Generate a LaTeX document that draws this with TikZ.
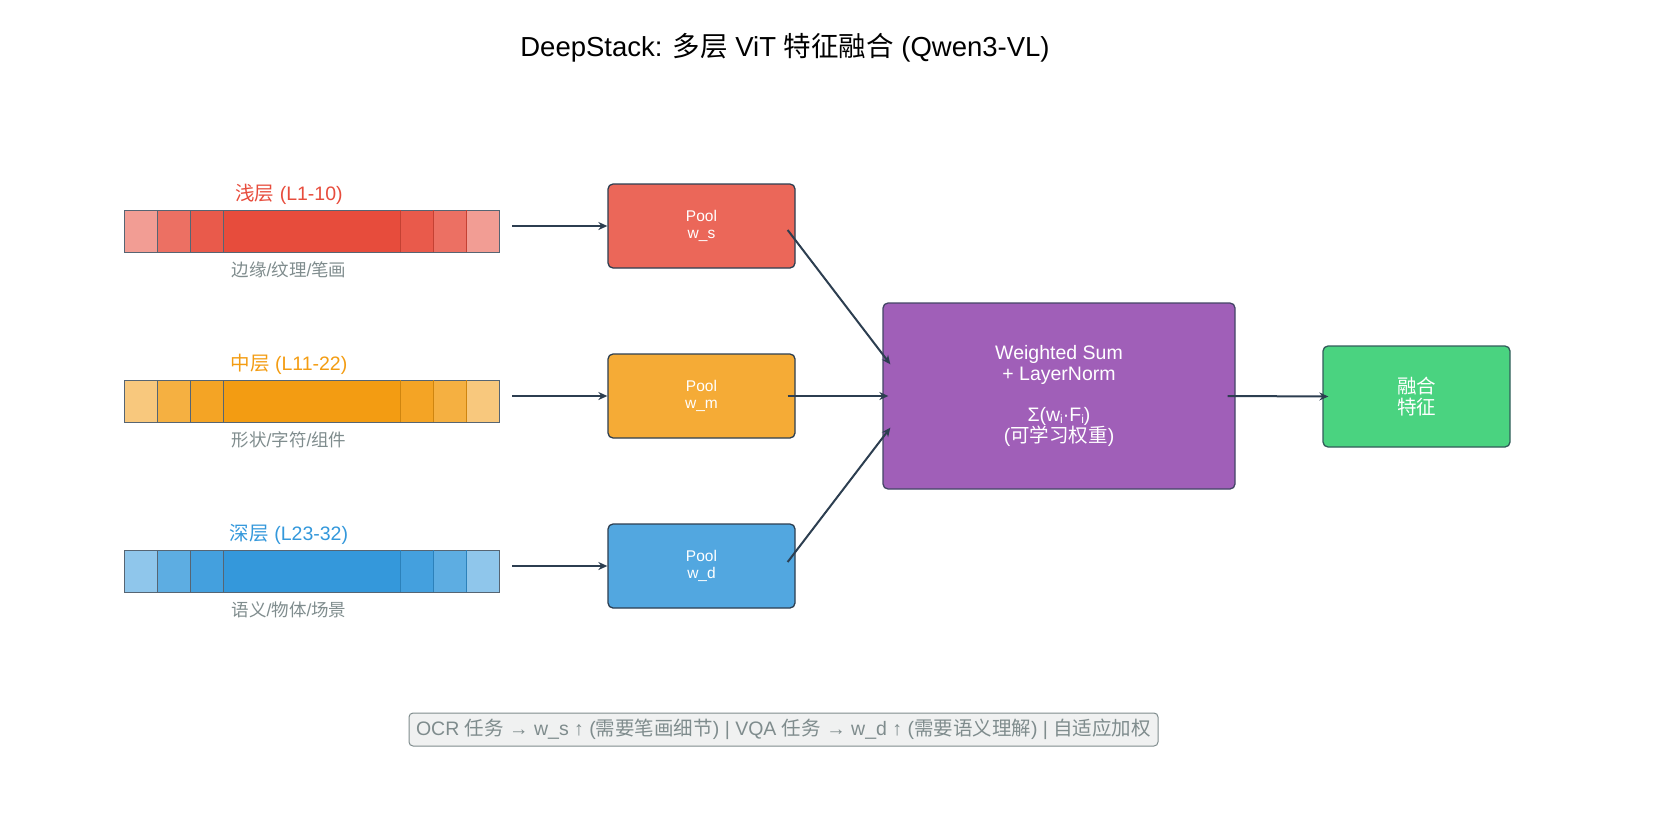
\documentclass[tikz,border=0pt]{standalone}
\usepackage{fontspec}
\setmainfont{Liberation Sans}
\newfontfamily\cjk{Noto Sans CJK SC}
\usetikzlibrary{arrows.meta}
\definecolor{cr}{HTML}{E74C3C}\definecolor{co}{HTML}{F39C12}\definecolor{cb}{HTML}{3498DB}
\definecolor{dk}{HTML}{2C3E50}\definecolor{gr}{HTML}{7F8C8D}
\definecolor{pu}{HTML}{A05FB8}\definecolor{gn}{HTML}{4AD380}
\tikzset{
 pool/.style={draw=dk,line width=1.3pt,rounded corners=5pt,text=white,font=\fontsize{15.5}{17}\selectfont,align=center,inner sep=0pt},
 arr/.style={draw=dk,line width=2pt,-{Stealth[length=9pt,width=8pt]}},
 sq/.style={draw=dk!80,line width=0.5pt},
 lab/.style={font=\fontsize{19.5}{22}\selectfont},
 sub/.style={font=\fontsize{17.5}{20}\selectfont,text=gr}
}
\newcommand{\featbar}[3]{% y, color, name
 \fill[#2] (124,#1) rectangle (499,#1-42);
 \foreach \x/\o in {124/55,157/80,190/92,400/92,433/80,466/55}{
  \fill[white] (\x,#1) rectangle (\x+33,#1-42);
  \fill[#2!\o!white] (\x,#1) rectangle (\x+33,#1-42);}
 \fill[#2] (223,#1) rectangle (400,#1-42);
 \draw[sq] (124,#1) rectangle (499,#1-42);
 \foreach \x in {157,190,223}{\draw[sq] (\x,#1)--(\x,#1-42);}
 \foreach \x in {400,433,466}{\draw[#2!85!black,line width=0.3pt] (\x,#1)--(\x,#1-42);}
 \coordinate (#3) at (499,#1-16);
 \coordinate (#3s) at (512,#1-16);
}
\begin{document}
\begin{tikzpicture}[x=1pt,y=1pt]
\useasboundingbox (0,0) rectangle (1657,-838);
\node (title) at (785,-48) {\fontsize{27.5}{30}\selectfont DeepStack: {\cjk 多层} ViT {\cjk 特征融合} (Qwen3-VL)};
% bars
\featbar{-210}{cr}{b1}\featbar{-380}{co}{b2}\featbar{-550}{cb}{b3}
\node[lab,text=cr] (l1) at (289,-194) {{\cjk 浅层} (L1-10)};
\node[lab,text=co] (l2) at (289,-364) {{\cjk 中层} (L11-22)};
\node[lab,text=cb] (l3) at (289,-534) {{\cjk 深层} (L23-32)};
\node[sub] (s1) at (289,-270) {{\cjk 边缘}/{\cjk 纹理}/{\cjk 笔画}};
\node[sub] (s2) at (289,-440) {{\cjk 形状}/{\cjk 字符}/{\cjk 组件}};
\node[sub] (s3) at (289,-610) {{\cjk 语义}/{\cjk 物体}/{\cjk 场景}};
% pools
\node[pool,fill=cr!85!white,minimum width=187,minimum height=84] (p1) at (701.5,-226) {Pool\\w\_s};
\node[pool,fill=co!85!white,minimum width=187,minimum height=84] (p2) at (701.5,-396) {Pool\\w\_m};
\node[pool,fill=cb!85!white,minimum width=187,minimum height=84] (p3) at (701.5,-566) {Pool\\w\_d};
\node[pool,fill=pu,draw=dk!80!pu,minimum width=352,minimum height=186,font=\fontsize{19.5}{21}\selectfont] (ws) at (1059,-396)
 {Weighted Sum\\+ LayerNorm\\[20pt]Σ(w\raisebox{-2pt}{\fontsize{12}{12}\selectfont i}·F\raisebox{-2pt}{\fontsize{12}{12}\selectfont i})\\({\cjk 可学习权重})};
\node[pool,fill=gn,draw=dk!80!gn,minimum width=187,minimum height=101,font=\fontsize{19.5}{21}\selectfont] (out) at (1416.5,-396.5) {{\cjk 融合}\\{\cjk 特征}};
% arrows
\draw[arr] (b1s) -- (p1.west);
\draw[arr] (b2s) -- (p2.west);
\draw[arr] (b3s) -- (p3.west);
\draw[arr] ([xshift=-8pt,yshift=-4pt]p1.east) -- ([xshift=8pt,yshift=-62pt]ws.north west);
\draw[arr] ([xshift=-8pt]p2.east) -- ([xshift=6pt]ws.west);
\draw[arr] ([xshift=-8pt,yshift=4pt]p3.east) -- ([xshift=8pt,yshift=62pt]ws.south west);
\draw[arr] ([xshift=-8pt]ws.east) -- ([xshift=6pt]out.west);
% bottom note
\node[draw=gr,line width=1pt,fill=gr!12!white,rounded corners=4pt,text=gr,font=\fontsize{19.5}{21}\selectfont,minimum width=749,minimum height=33,inner sep=0pt] (note) at (783.5,-729.5)
 {OCR {\cjk 任务} → w\_s ↑ ({\cjk 需要笔画细节}) | VQA {\cjk 任务} → w\_d ↑ ({\cjk 需要语义理解}) | {\cjk 自适应加权}};
\end{tikzpicture}
\end{document}
